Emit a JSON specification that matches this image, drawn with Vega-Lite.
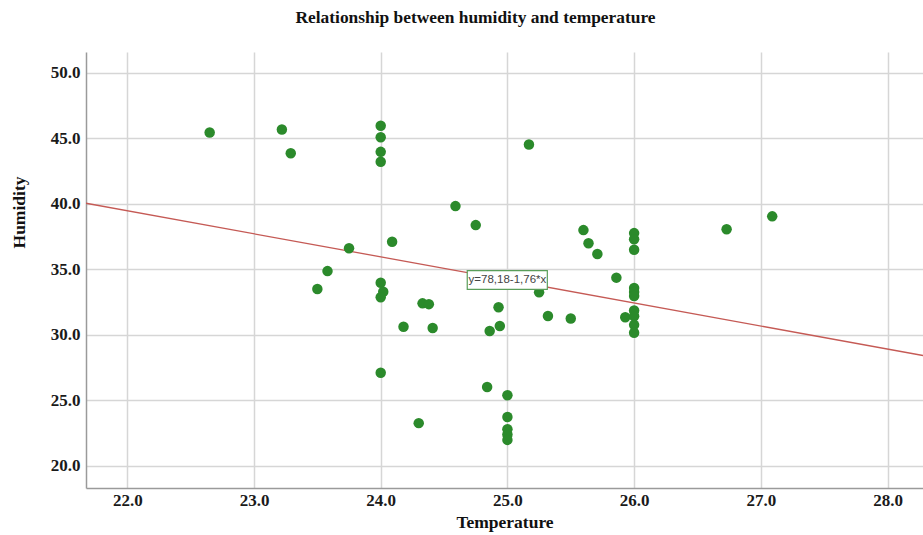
{
  "$schema": "https://vega.github.io/schema/vega-lite/v6.json",
  "autosize": {"type": "none"},
  "width": 837,
  "height": 436,
  "padding": {"left": 86, "top": 52, "right": 0, "bottom": 47},
  "background": "white",
  "title": {
    "text": "Relationship between humidity and temperature",
    "font": "Liberation Serif",
    "fontSize": 17.4,
    "fontWeight": "bold",
    "color": "#111111",
    "anchor": "middle",
    "frame": "group",
    "dx": -29,
    "offset": 26
  },
  "config": {
    "view": {"stroke": null},
    "axis": {
      "labelFont": "Liberation Serif",
      "labelFontSize": 17,
      "labelFontWeight": "bold",
      "labelColor": "#1a1a1a",
      "titleFont": "Liberation Serif",
      "titleFontSize": 17.5,
      "titleFontWeight": "bold",
      "titleColor": "#111111",
      "gridColor": "#d6d6d6",
      "gridWidth": 1.5,
      "domainColor": "#9a9a9a",
      "domainWidth": 1.5,
      "ticks": false
    }
  },
  "datasets": {
    "points": [
      {"t": 22.65, "h": 45.43}, {"t": 23.22, "h": 45.66}, {"t": 23.29, "h": 43.85},
      {"t": 23.50, "h": 33.48}, {"t": 23.58, "h": 34.85}, {"t": 23.75, "h": 36.60},
      {"t": 24.00, "h": 45.94}, {"t": 24.00, "h": 45.07}, {"t": 24.00, "h": 43.95},
      {"t": 24.00, "h": 43.19}, {"t": 24.00, "h": 33.96}, {"t": 24.02, "h": 33.28},
      {"t": 24.00, "h": 32.85}, {"t": 24.00, "h": 27.10}, {"t": 24.09, "h": 37.09},
      {"t": 24.18, "h": 30.61}, {"t": 24.30, "h": 23.25}, {"t": 24.33, "h": 32.39},
      {"t": 24.38, "h": 32.33}, {"t": 24.41, "h": 30.51}, {"t": 24.59, "h": 39.81},
      {"t": 24.75, "h": 38.36}, {"t": 24.84, "h": 26.01}, {"t": 24.86, "h": 30.28},
      {"t": 24.93, "h": 32.09}, {"t": 24.94, "h": 30.66}, {"t": 25.00, "h": 25.38},
      {"t": 25.00, "h": 23.72}, {"t": 25.00, "h": 22.79}, {"t": 25.00, "h": 22.38},
      {"t": 25.00, "h": 21.97}, {"t": 25.17, "h": 44.51}, {"t": 25.25, "h": 33.23},
      {"t": 25.32, "h": 31.43}, {"t": 25.50, "h": 31.23}, {"t": 25.60, "h": 37.98},
      {"t": 25.64, "h": 36.97}, {"t": 25.71, "h": 36.15}, {"t": 25.86, "h": 34.35},
      {"t": 25.93, "h": 31.33}, {"t": 26.00, "h": 37.75}, {"t": 26.00, "h": 37.28},
      {"t": 26.00, "h": 36.48}, {"t": 26.00, "h": 33.56}, {"t": 26.00, "h": 33.25},
      {"t": 26.00, "h": 32.95}, {"t": 26.00, "h": 31.85}, {"t": 26.00, "h": 31.40},
      {"t": 26.00, "h": 30.75}, {"t": 26.00, "h": 30.15}, {"t": 26.73, "h": 38.04},
      {"t": 27.09, "h": 39.03}
    ],
    "fit": [
      {"t": 21.674, "h": 40.03},
      {"t": 28.28, "h": 28.41}
    ],
    "label": [
      {"t": 25.0, "h": 34.17, "t1": 24.683, "t2": 25.315, "h1": 33.46, "h2": 34.88, "txt": "y=78,18-1,76*x"}
    ]
  },
  "encoding": {
    "x": {
      "field": "t",
      "type": "quantitative",
      "scale": {"domain": [21.674, 28.28], "nice": false, "zero": false},
      "axis": {
        "title": "Temperature",
        "values": [22, 23, 24, 25, 26, 27, 28],
        "format": ".1f",
        "labelPadding": 4,
        "titleY": 34,
        "titleBaseline": "middle"
      }
    },
    "y": {
      "field": "h",
      "type": "quantitative",
      "scale": {"domain": [18.3, 51.57], "nice": false, "zero": false},
      "axis": {
        "title": "Humidity",
        "values": [20, 25, 30, 35, 40, 45, 50],
        "format": ".1f",
        "labelPadding": 6,
        "titleX": -67,
        "titleY": 160,
        "titleAngle": 270,
        "titleAlign": "center",
        "titleBaseline": "middle"
      }
    }
  },
  "layer": [
    {
      "data": {"name": "fit"},
      "mark": {"type": "line", "color": "#c55a55", "strokeWidth": 1.3, "clip": true},
      "encoding": {}
    },
    {
      "data": {"name": "points"},
      "mark": {"type": "circle", "color": "#2b8a2b", "opacity": 1, "size": 110}
    },
    {
      "data": {"name": "label"},
      "mark": {"type": "rect", "fill": "white", "stroke": "#5a9e5a", "strokeWidth": 1.2},
      "encoding": {
        "x": {"field": "t1", "type": "quantitative"},
        "x2": {"field": "t2"},
        "y": {"field": "h1", "type": "quantitative"},
        "y2": {"field": "h2"}
      }
    },
    {
      "data": {"name": "label"},
      "mark": {"type": "text", "font": "Liberation Sans", "fontSize": 11.5, "color": "#444444", "align": "center", "baseline": "middle"},
      "encoding": {
        "text": {"field": "txt"}
      }
    }
  ]
}
